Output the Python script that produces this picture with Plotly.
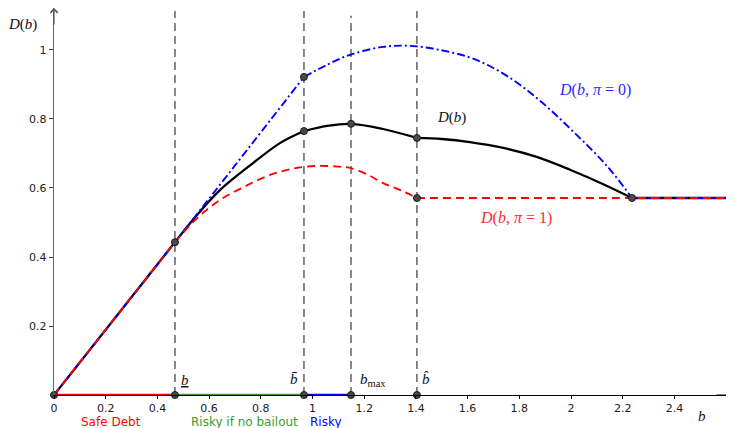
import plotly.graph_objects as go

# ---------------- data ----------------
B_LOW, B_BAR, B_MAX, B_HAT, B_END = 0.468, 0.967, 1.149, 1.404, 2.236
X_MAX = 2.6267
Y_MAX = 1.1217

# D(b, pi=0)  (blue, dash-dot)
blue_x = [0, 0.468, 0.967, 1.056, 1.145, 1.273, 1.377, 1.493, 1.621, 1.752, 1.880, 2.008, 2.139, 2.236, 2.6267]
blue_y = [0, 0.443, 0.922, 0.957, 0.986, 1.009, 1.012, 1.000, 0.975, 0.925, 0.853, 0.764, 0.664, 0.571, 0.571]
blue_kinks = [B_BAR, B_END]

# D(b, pi=1)  (red, dashed)
red_x = [0, 0.468, 0.55, 0.642, 0.74, 0.836, 0.93, 1.017, 1.10, 1.145, 1.21, 1.273, 1.34, 1.404, 2.6267]
red_y = [0, 0.443, 0.510, 0.565, 0.605, 0.638, 0.657, 0.664, 0.662, 0.658, 0.640, 0.614, 0.594, 0.571, 0.571]
red_kinks = [B_LOW, B_HAT]

# D(b)  (black, solid)
blk_x = [0, 0.468, 0.55, 0.642, 0.770, 0.874, 0.967, 1.056, 1.149, 1.273, 1.404,
         1.50, 1.609, 1.738, 1.867, 1.996, 2.125, 2.236, 2.6267]
blk_y = [0, 0.443, 0.519, 0.594, 0.672, 0.730, 0.765, 0.780, 0.786, 0.771, 0.745,
         0.742, 0.733, 0.716, 0.690, 0.653, 0.611, 0.571, 0.571]
blk_kinks = [B_LOW, B_BAR, B_HAT, B_END]

# vertical guide lines
vline_x = [B_LOW, B_BAR, B_MAX, B_HAT]
vline_top = [1.113, 1.113, 1.099, 1.113]

# highlighted points
pt_x = [0, B_LOW, B_LOW, B_BAR, B_BAR, B_BAR, B_MAX, B_MAX, B_HAT, B_HAT, B_HAT, B_END]
pt_y = [0, 0, 0.443, 0, 0.765, 0.922, 0, 0.786, 0, 0.745, 0.571, 0.571]

# regions on the b axis
reg_x = [[0, B_LOW], [B_LOW, B_BAR], [B_BAR, B_MAX]]
reg_colors = ["#ff0000", "#3c9a2c", "#0000ff"]
reg_names = ["Safe Debt", "Risky if no bailout", "Risky"]

x_ticks = [0, 0.2, 0.4, 0.6, 0.8, 1, 1.2, 1.4, 1.6, 1.8, 2, 2.2, 2.4]
x_ticktext = ["0", "0.2", "0.4", "0.6", "0.8", "1", "1.2", "1.4", "1.6", "1.8", "2", "2.2", "2.4"]
y_ticks = [0.2, 0.4, 0.6, 0.8, 1]
y_ticktext = ["0.2", "0.4", "0.6", "0.8", "1"]

# page has an 8px body margin: figure is shifted by OFF, so shrink it accordingly
OFF = 8
W, H = 734 - OFF, 428 - OFF
def px(x):
    return (x - OFF) / W
def py(y):
    return 1 - (y - OFF) / H

SERIF = "Liberation Serif"
SANS = "DejaVu Sans"


def split(xs, ys, kinks):
    segs, cx, cy = [], [], []
    for x, y in zip(xs, ys):
        cx.append(x)
        cy.append(y)
        if any(abs(x - k) < 1e-9 for k in kinks):
            segs.append((cx, cy))
            cx, cy = [x], [y]
    if len(cx) > 1:
        segs.append((cx, cy))
    return segs


fig = go.Figure()

# vertical dashed lines
for xv, top in zip(vline_x, vline_top):
    fig.add_trace(go.Scatter(x=[xv, xv], y=[0, top], mode="lines",
                             line=dict(color="#3a3a3a", width=1.2, dash="8px,5px"),
                             hoverinfo="skip", showlegend=False, cliponaxis=False))

# region segments on axis
for (xa, xb), c in zip(reg_x, reg_colors):
    fig.add_trace(go.Scatter(x=[xa, xb], y=[0, 0], mode="lines",
                             line=dict(color=c, width=2.4),
                             hoverinfo="skip", showlegend=False, cliponaxis=False))

for sx, sy in split(blk_x, blk_y, blk_kinks):
    fig.add_trace(go.Scatter(x=sx, y=sy, mode="lines",
                             line=dict(color="black", width=2.3, shape="spline", smoothing=1),
                             showlegend=False, cliponaxis=False))
for sx, sy in split(blue_x, blue_y, blue_kinks):
    fig.add_trace(go.Scatter(x=sx, y=sy, mode="lines",
                             line=dict(color="#0000ff", width=1.9, dash="8px,3px,2px,3px", shape="spline", smoothing=1),
                             showlegend=False, cliponaxis=False))
for sx, sy in split(red_x, red_y, red_kinks):
    fig.add_trace(go.Scatter(x=sx, y=sy, mode="lines",
                             line=dict(color="#ff0000", width=1.8, dash="8px,5px", shape="spline", smoothing=1),
                             showlegend=False, cliponaxis=False))

# points
fig.add_trace(go.Scatter(x=pt_x, y=pt_y, mode="markers",
                         marker=dict(size=7, color="#4a4a4a", line=dict(color="#1a1a1a", width=1)),
                         showlegend=False, cliponaxis=False))

annotations = []
# axis arrows
annotations.append(dict(x=X_MAX, y=0, xref="x", yref="y", ax=-18, ay=0, text="", showarrow=True,
                        arrowhead=4, arrowsize=1.2, arrowwidth=1.2, arrowcolor="black"))
annotations.append(dict(x=0, y=Y_MAX, xref="x", yref="y", ax=0, ay=18, text="", showarrow=True,
                        arrowhead=4, arrowsize=1.2, arrowwidth=1.2, arrowcolor="#555555"))


def lab(text, x, y, color="#111111", size=15, family=SERIF, xanchor="center"):
    annotations.append(dict(text=text, x=px(x), y=py(y), xref="paper", yref="paper",
                            showarrow=False, xanchor=xanchor, yanchor="middle", borderpad=0,
                            font=dict(family=family, size=size, color=color)))


lab("<i>D</i>(<i>b</i>)", 22, 25)
lab("<i>D</i>(<i>b</i>)", 451, 118)
lab("<i>D</i>(<i>b</i>, <i>π</i> = 0)", 595, 90, color="#2a2aff", size=16)
lab("<i>D</i>(<i>b</i>, <i>π</i> = 1)", 516, 218, color="#ff2a2a", size=16)
lab("<u><i>b</i></u>", 185, 380, size=15)
lab("<i>b̄</i>", 294, 379, size=15)
lab("<i>b</i><sub>max</sub>", 359, 380, size=15, xanchor="left")
lab("<i>b̂</i>", 426, 379, size=15)
lab("<i>b</i>", 702, 416, size=15)

lab(reg_names[0], 111, 421.5, color="#ff0000", size=12, family=SANS)
lab(reg_names[1], 244, 421.5, color="#3c9a2c", size=12, family=SANS)
lab(reg_names[2], 326, 421.5, color="#0000ff", size=12, family=SANS)

fig.update_layout(
    width=W, height=H,
    margin=dict(l=0, r=0, t=0, b=0),
    paper_bgcolor="white", plot_bgcolor="white",
    showlegend=False,
    annotations=annotations,
    xaxis=dict(domain=[(54 - OFF) / W, (733 - OFF) / W], range=[0, X_MAX], showgrid=False, zeroline=False,
               showline=True, linecolor="black", linewidth=1.2,
               ticks="outside", ticklen=3, tickcolor="black", tickwidth=1,
               tickvals=x_ticks, ticktext=x_ticktext,
               tickfont=dict(family=SANS, size=11, color="#222222"), automargin=False, fixedrange=True),
    yaxis=dict(domain=[(H - (395 - OFF)) / H, 1], range=[0, Y_MAX], showgrid=False, zeroline=False,
               showline=True, linecolor="#666666", linewidth=1.4,
               ticks="outside", ticklen=4, tickcolor="#444444", tickwidth=1,
               tickvals=y_ticks, ticktext=y_ticktext,
               tickfont=dict(family=SANS, size=11, color="#222222"), automargin=False, fixedrange=True),
)

fig.write_html("out.html")
